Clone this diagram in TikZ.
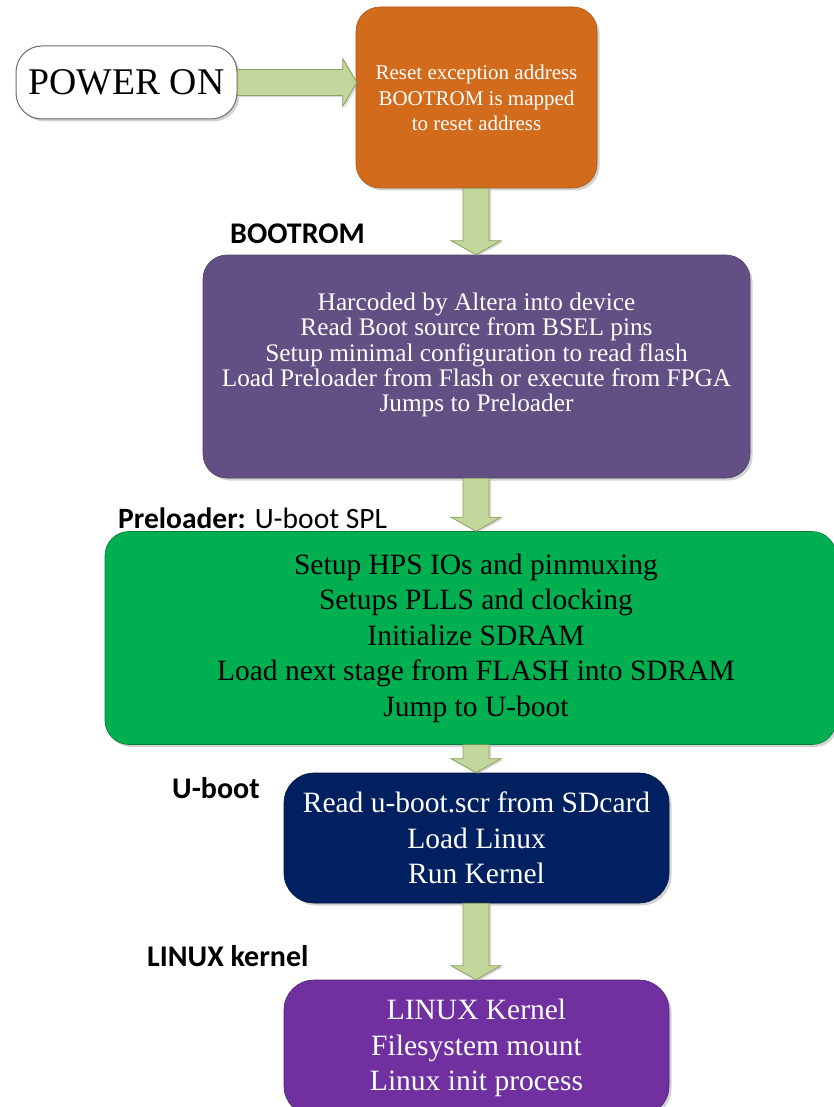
\documentclass[tikz,border=0pt]{standalone}
\usepackage{fontspec}
\setmainfont{Liberation Serif}
\newfontfamily\labfont{Carlito}
\usetikzlibrary{shadows,calc}
\definecolor{orangebox}{RGB}{211,107,29}
\definecolor{purplebox}{RGB}{98,80,132}
\definecolor{greenbox}{RGB}{0,176,80}
\definecolor{navybox}{RGB}{0,32,96}
\definecolor{violetbox}{RGB}{112,48,160}
\definecolor{arrowfill}{RGB}{195,214,155}
\definecolor{arrowline}{RGB}{140,160,95}
\definecolor{powerline}{RGB}{110,110,110}
\tikzset{
  stagebox/.style={rounded corners=24pt, minimum width=#1, inner sep=0pt,
    drop shadow={opacity=0.35, shadow xshift=2.5pt, shadow yshift=-2.5pt}},
  blockarrow/.style={fill=arrowfill, draw=arrowline, line width=0.8pt,
    drop shadow={opacity=0.3, shadow xshift=2pt, shadow yshift=-1.5pt}},
  stagetext/.style={align=center, inner sep=0pt},
  stagelabel/.style={font=\labfont\fontsize{30}{34}\selectfont\bfseries, inner sep=0pt, anchor=west}
}
\newcommand\downblock[2]{%
  \path[blockarrow] let \p1=(#1), \p2=(#2) in
    (\x1-13pt,\y1) -- (\x1-13pt,\y2+14pt) -- (\x1-25pt,\y2+14pt) -- (\x1,\y2)
    -- (\x1+25pt,\y2+14pt) -- (\x1+13pt,\y2+14pt) -- (\x1+13pt,\y1) -- cycle;}
\begin{document}
\begin{tikzpicture}[x=1pt,y=-1pt]
\useasboundingbox (0,0) rectangle (833,1107);
\coordinate (axis) at (476,0);

% POWER ON
\node[stagebox=221pt, minimum height=73pt, rounded corners=26pt, fill=white, draw=powerline, line width=1pt,
  font=\fontsize{37.7}{40}\selectfont] (power) at (126.5,82.5) {POWER ON};

% orange
\node[stagebox=241pt, minimum height=181pt, fill=orangebox, draw=orangebox!80!black, line width=0.6pt] (reset) at (476.5,97.5) {};
\node[stagetext, text=white, font=\fontsize{21}{25.5}\selectfont] (resettext) at (476.5,98) {Reset exception address\\BOOTROM is mapped\\to reset address};

% purple
\node[stagebox=547pt, minimum height=223pt, fill=purplebox, draw=purplebox!80!black, line width=0.6pt] (bootrom) at (476.5,366.5) {};
\node[stagetext, text=white, font=\fontsize{25.3}{25.2}\selectfont] (bootromtext) at (476.5,355) {Harcoded by Altera into device\\Read Boot source from BSEL pins\\Setup minimal configuration to read flash\\Load Preloader from Flash or execute from FPGA\\Jumps to Preloader};

% green
\node[stagebox=731pt, minimum height=213pt, fill=greenbox, draw=greenbox!70!black, line width=0.6pt] (preloader) at (470.5,638) {};
\node[stagetext, text=black, font=\fontsize{29.5}{35.5}\selectfont] (preloadertext) at (476,638) {Setup HPS IOs and pinmuxing\\Setups PLLS and clocking\\Initialize SDRAM\\Load next stage from FLASH into SDRAM\\Jump to U-boot};

% navy
\node[stagebox=385pt, minimum height=130pt, rounded corners=30pt, fill=navybox, draw=navybox!70!black, line width=0.6pt] (uboot) at (476.5,838) {};
\node[stagetext, text=white, font=\fontsize{29.5}{35.5}\selectfont] (uboottext) at (476.5,838) {Read u-boot.scr from SDcard\\Load Linux\\Run Kernel};

% violet
\node[stagebox=385pt, minimum height=136pt, rounded corners=30pt, fill=violetbox, draw=violetbox!70!black, line width=0.6pt] (linux) at (476.5,1048) {};
\node[stagetext, text=white, font=\fontsize{29.5}{35.5}\selectfont] (linuxtext) at (476.5,1048) {LINUX Kernel\\Filesystem mount\\Linux init process};

% labels
\node[stagelabel] (lbootrom) at (230,234) {BOOTROM};
\node[stagelabel, font=\labfont\fontsize{29.5}{34}\selectfont] (lpreloader) at (118,518) {\bfseries Preloader:\mdseries{} U-boot SPL};
\node[stagelabel] (luboot) at (172,788) {U-boot};
\node[stagelabel] (llinux) at (147,956) {LINUX kernel};

% arrows
\path[blockarrow] let \p1=(power.east), \p2=(reset.west) in
  (\x1,\y1+13pt) -- (\x2-13pt,\y1+13pt) -- (\x2-13pt,\y1+24pt) -- (\x2+1pt,\y1)
  -- (\x2-13pt,\y1-24pt) -- (\x2-13pt,\y1-13pt) -- (\x1,\y1-13pt) -- cycle;
\downblock{reset.south -| axis}{bootrom.north -| axis}
\downblock{bootrom.south -| axis}{preloader.north -| axis}
\downblock{preloader.south -| axis}{uboot.north -| axis}
\downblock{uboot.south -| axis}{linux.north -| axis}
\end{tikzpicture}
\end{document}
